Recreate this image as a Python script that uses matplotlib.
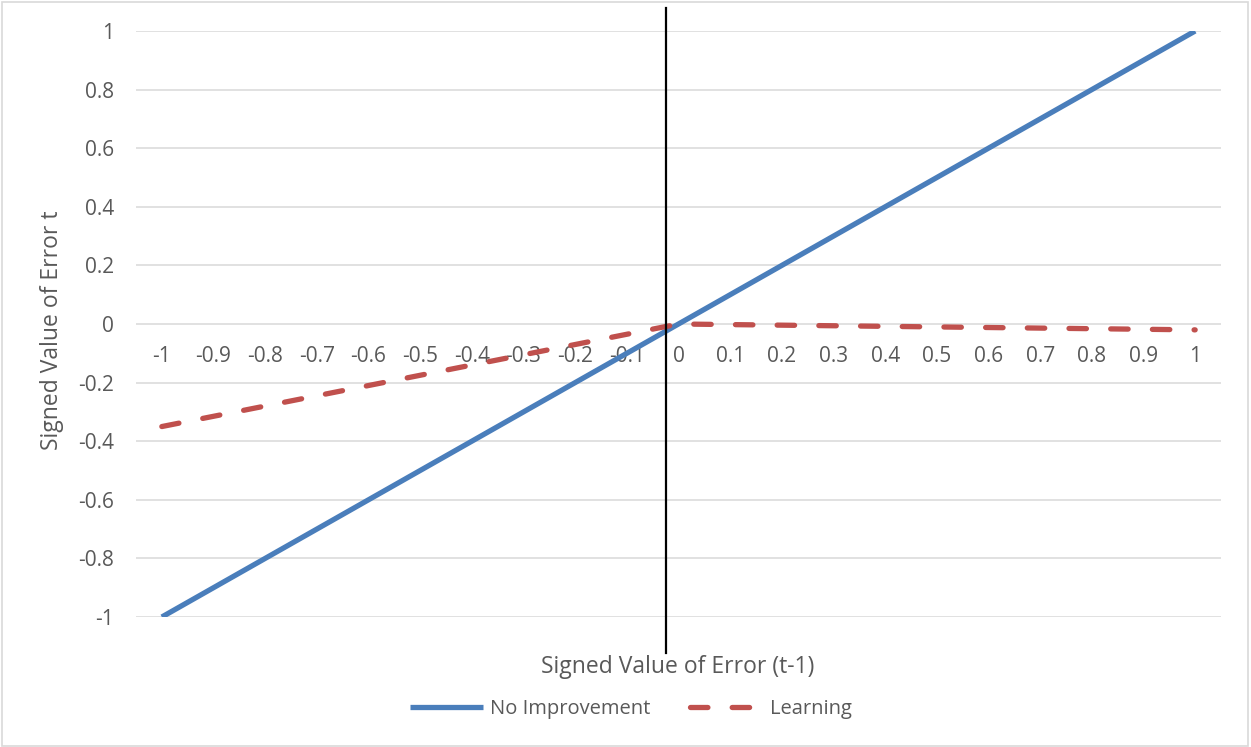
import matplotlib
matplotlib.use("Agg")
import matplotlib.pyplot as plt
from matplotlib.patches import Rectangle
from matplotlib.transforms import blended_transform_factory

plt.rcParams['font.family'] = ['Open Sans', 'DejaVu Sans']

# Signed error at t-1 (categories) and the resulting error at t
categories = ["-1", "-0.9", "-0.8", "-0.7", "-0.6", "-0.5", "-0.4", "-0.3", "-0.2", "-0.1",
              "0", "0.1", "0.2", "0.3", "0.4", "0.5", "0.6", "0.7", "0.8", "0.9", "1"]
no_improvement = [-1.0, -0.9, -0.8, -0.7, -0.6, -0.5, -0.4, -0.3, -0.2, -0.1,
                  0.0, 0.1, 0.2, 0.3, 0.4, 0.5, 0.6, 0.7, 0.8, 0.9, 1.0]
learning = [-0.35, -0.315, -0.28, -0.245, -0.21, -0.175, -0.14, -0.105, -0.07, -0.035,
            0.0, -0.002, -0.004, -0.006, -0.008, -0.01, -0.012, -0.014, -0.016, -0.018, -0.02]
y_ticks = [-1, -0.8, -0.6, -0.4, -0.2, 0, 0.2, 0.4, 0.6, 0.8, 1]
y_tick_labels = ["-1", "-0.8", "-0.6", "-0.4", "-0.2", "0", "0.2", "0.4", "0.6", "0.8", "1"]
divider_value = -0.025  # position of the vertical marker, in error units

TEXT = "#595959"
GRID = "#d9d9d9"
BLUE = "#4a7ebb"
RED = "#c0504d"

W, H = 1251, 747
fig = plt.figure(figsize=(W / 100, H / 100), dpi=100)
ax = fig.add_axes([136 / W, 130 / H, 1085 / W, 586 / H])

x = list(range(len(categories)))
ax.plot(x, no_improvement, color=BLUE, lw=3.8, solid_capstyle='butt', label="No Improvement", zorder=3)
ax.plot(x, learning, color=RED, lw=3.8, dashes=(3.3, 4.6), dash_capstyle='round',
        label="Learning", zorder=3)

ax.set_xlim(-0.5, len(categories) - 0.5)
ax.set_ylim(-1, 1)
ax.set_yticks(y_ticks)
ax.set_yticklabels(y_tick_labels)
ax.set_xticks(x)
ax.set_xticklabels(categories)

for s in ax.spines.values():
    s.set_visible(False)
ax.spines['bottom'].set_position(('data', 0))
ax.tick_params(axis='both', length=0, labelsize=15, colors=TEXT)
ax.tick_params(axis='x', pad=16)
ax.tick_params(axis='y', pad=16)
ax.yaxis.grid(True, color=GRID, lw=1.1)
ax.set_axisbelow(True)

fig.text(52 / W, 1 - 330 / H, "Signed Value of Error t", rotation=90, ha='center', va='center',
         fontsize=16.5, color=TEXT)
fig.text(678 / W, 1 - 667 / H, "Signed Value of Error (t-1)", ha='center', va='center',
         fontsize=16.5, color=TEXT)

# Vertical marker spanning beyond the plot area
divider_idx = (divider_value - no_improvement[0]) / 0.1
trans = blended_transform_factory(ax.transData, fig.transFigure)
ax.plot([divider_idx, divider_idx], [1 - 8 / H, 1 - 653 / H], color='black', lw=1.6,
        transform=trans, clip_on=False, zorder=4)

leg = fig.legend(loc='center', bbox_to_anchor=(631 / W, 1 - 709 / H), ncol=2, frameon=False,
                 fontsize=14.5, handlelength=3.6, handletextpad=0.35, columnspacing=2.0)
for t in leg.get_texts():
    t.set_color(TEXT)

fig.patches.append(Rectangle((0.0015, 0.002), 0.996, 0.995, transform=fig.transFigure,
                             fill=False, edgecolor=GRID, lw=1.2))

fig.savefig("out.png", dpi=100)
